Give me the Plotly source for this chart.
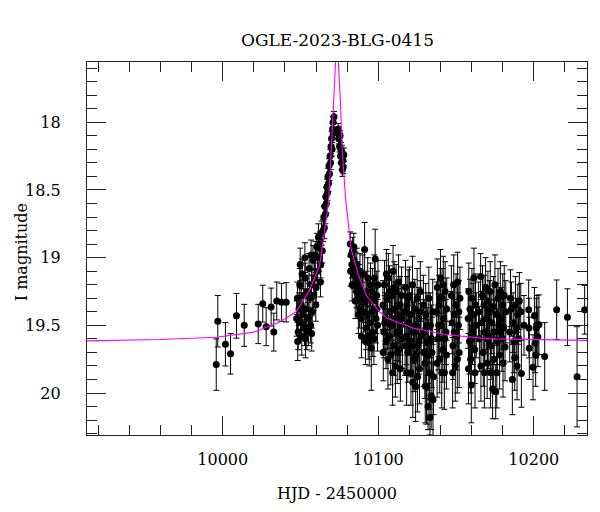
import plotly.graph_objects as go

# Observations: (HJD-2450000, I mag, error)
obs = [
    # pre-event baseline
    (9995.8, 19.79, 0.19), (9996.8, 19.47, 0.19), (10001.7, 19.64, 0.16), (10005.0, 19.71, 0.15),
    (10008.8, 19.43, 0.165), (10013.8, 19.50, 0.155), (10022.8, 19.49, 0.145), (10025.7, 19.34, 0.136),
    (10027.9, 19.51, 0.14), (10031.1, 19.365, 0.14), (10032.8, 19.55, 0.14), (10034.7, 19.32, 0.14),
    (10037.8, 19.33, 0.14), (10040.8, 19.33, 0.145),
    # rising branch
    (10047.5, 19.45, 0.13), (10048.0, 19.30, 0.12), (10048.5, 19.55, 0.13), (10049.0, 19.38, 0.12),
    (10049.5, 19.20, 0.12), (10050.0, 19.48, 0.13), (10050.5, 19.35, 0.12), (10051.0, 19.12, 0.11),
    (10051.5, 19.42, 0.12), (10052.0, 19.28, 0.12), (10052.5, 19.52, 0.13), (10053.0, 19.15, 0.11),
    (10053.5, 19.38, 0.12), (10054.0, 19.55, 0.13), (10054.5, 19.25, 0.12), (10055.0, 19.45, 0.12),
    (10055.5, 19.08, 0.11), (10056.0, 19.30, 0.12), (10056.5, 19.50, 0.13), (10057.0, 19.20, 0.11),
    (10057.5, 19.40, 0.12), (10058.0, 19.02, 0.11), (10058.5, 19.28, 0.11), (10059.0, 19.15, 0.11),
    (10059.5, 18.98, 0.10), (10060.0, 19.22, 0.11), (10060.5, 18.92, 0.10), (10061.0, 19.10, 0.10),
    (10061.5, 18.85, 0.10), (10062.0, 19.00, 0.10), (10062.5, 18.90, 0.09), (10063.0, 19.05, 0.10),
    (10063.5, 18.82, 0.09), (10064.0, 18.95, 0.09), (10064.5, 18.80, 0.08), (10065.0, 18.70, 0.08),
    (10065.3, 18.78, 0.08), (10065.6, 18.62, 0.07), (10066.0, 18.68, 0.07), (10066.3, 18.55, 0.07),
    (10066.6, 18.60, 0.07), (10067.0, 18.48, 0.06), (10067.3, 18.52, 0.06), (10067.6, 18.40, 0.06),
    (10068.0, 18.45, 0.06), (10068.3, 18.32, 0.05), (10068.6, 18.38, 0.05), (10069.0, 18.25, 0.05),
    (10069.3, 18.30, 0.05), (10069.6, 18.18, 0.05), (10070.0, 18.12, 0.05), (10070.3, 18.20, 0.05),
    (10070.6, 18.05, 0.04), (10070.9, 18.00, 0.04), (10071.2, 18.08, 0.04), (10071.5, 17.96, 0.04),
    (10048.2, 19.62, 0.14), (10050.8, 19.58, 0.14), (10053.2, 19.60, 0.14), (10055.2, 19.52, 0.13),
    (10057.2, 19.56, 0.13), (10049.8, 19.05, 0.12), (10052.8, 19.00, 0.11), (10056.8, 18.98, 0.11),
    (10059.8, 19.35, 0.12), (10062.8, 19.18, 0.11),
    # just after peak
    (10074.2, 18.05, 0.04), (10074.5, 18.12, 0.04), (10074.8, 18.08, 0.04), (10075.1, 18.18, 0.04),
    (10075.4, 18.10, 0.04), (10075.7, 18.25, 0.05), (10076.0, 18.20, 0.05), (10076.3, 18.30, 0.05),
    (10076.6, 18.22, 0.05), (10076.9, 18.35, 0.05), (10077.2, 18.28, 0.05), (10077.5, 18.33, 0.05),
    (10077.8, 18.24, 0.05),
    # decline
    (10082.0, 18.90, 0.09), (10082.5, 18.98, 0.10), (10083.0, 19.05, 0.10), (10083.5, 18.95, 0.10),
    (10084.0, 19.12, 0.11), (10084.5, 19.02, 0.11), (10085.0, 19.20, 0.12), (10085.5, 19.08, 0.12),
    (10086.0, 19.25, 0.12), (10086.5, 19.15, 0.12), (10087.0, 19.30, 0.13), (10087.5, 19.18, 0.13),
    (10088.0, 19.38, 0.14), (10088.5, 19.22, 0.13), (10089.0, 19.45, 0.14), (10089.5, 19.28, 0.14),
    (10090.0, 19.12, 0.14), (10090.5, 19.40, 0.15), (10091.2, 18.94, 0.20), (10091.5, 19.33, 0.15),
    (10092.0, 19.52, 0.16), (10092.5, 19.25, 0.15), (10093.0, 19.42, 0.16), (10093.5, 19.58, 0.17),
    (10094.0, 19.30, 0.16), (10094.5, 19.48, 0.17), (10095.0, 19.20, 0.16), (10095.5, 19.67, 0.31),
    (10096.0, 19.40, 0.17), (10096.5, 19.55, 0.18), (10097.0, 19.32, 0.17), (10097.5, 19.15, 0.17),
    (10098.0, 19.01, 0.22), (10098.5, 19.45, 0.18), (10099.0, 19.28, 0.18), (10099.5, 19.50, 0.19),
    (10082.2, 19.10, 0.11), (10083.2, 19.20, 0.12), (10084.2, 18.92, 0.10), (10085.2, 19.32, 0.13),
    (10086.2, 19.05, 0.12), (10087.2, 19.42, 0.14), (10088.2, 19.10, 0.13), (10089.2, 19.58, 0.16),
    (10090.2, 19.30, 0.15), (10091.8, 19.62, 0.17), (10093.2, 19.15, 0.15), (10094.2, 19.62, 0.18),
    (10096.2, 19.25, 0.17), (10097.2, 19.60, 0.19), (10098.8, 19.38, 0.18), (10099.8, 19.20, 0.18),
    (10103.0, 19.35, 0.18), (10103.5, 19.55, 0.19), (10104.0, 19.20, 0.18), (10104.5, 19.45, 0.19),
    (10105.0, 19.62, 0.20), (10105.5, 19.30, 0.18), (10106.0, 19.48, 0.19), (10106.5, 19.15, 0.18),
    (10107.0, 19.58, 0.20), (10107.5, 19.40, 0.19), (10108.0, 19.72, 0.22), (10108.5, 19.28, 0.19),
    (10109.0, 19.50, 0.20), (10109.5, 19.10, 0.19), (10110.0, 19.65, 0.22), (10110.5, 19.38, 0.20),
    (10111.0, 19.80, 0.23), (10111.5, 19.25, 0.20), (10112.0, 19.55, 0.21), (10112.5, 19.42, 0.21),
    (10113.0, 19.18, 0.20), (10113.5, 19.68, 0.22), (10114.0, 19.35, 0.21), (10114.5, 19.50, 0.22),
    (10115.0, 19.28, 0.21), (10115.5, 19.60, 0.22),
    (10103.2, 19.70, 0.21), (10104.2, 19.48, 0.20), (10105.2, 19.12, 0.18), (10106.2, 19.75, 0.22),
    (10107.2, 19.25, 0.19), (10108.2, 19.50, 0.20), (10109.2, 19.85, 0.24), (10110.2, 19.22, 0.19),
    (10111.2, 19.45, 0.21), (10112.2, 19.70, 0.23), (10113.2, 19.55, 0.22), (10114.2, 19.82, 0.24),
    (10115.2, 19.45, 0.22),
    (10117.0, 19.40, 0.20), (10117.5, 19.22, 0.20), (10118.0, 19.58, 0.21), (10118.5, 19.35, 0.21),
    (10119.0, 19.70, 0.22), (10119.5, 19.48, 0.21), (10120.0, 19.28, 0.21), (10120.5, 19.62, 0.22),
    (10121.0, 19.85, 0.24), (10121.5, 19.42, 0.22), (10122.0, 19.20, 0.21), (10122.5, 19.55, 0.22),
    (10123.0, 19.75, 0.24), (10123.5, 19.38, 0.22), (10124.0, 19.95, 0.26), (10124.5, 19.50, 0.23),
    (10125.0, 19.30, 0.22), (10125.5, 19.65, 0.24), (10126.0, 19.45, 0.23), (10126.5, 19.82, 0.26),
    (10127.0, 19.25, 0.22), (10127.5, 19.58, 0.24),
    (10117.2, 19.65, 0.22), (10118.2, 19.85, 0.24), (10119.2, 19.30, 0.21), (10120.2, 19.50, 0.22),
    (10121.2, 19.65, 0.23), (10122.2, 19.92, 0.26), (10123.2, 19.55, 0.23), (10124.2, 19.72, 0.25),
    (10125.2, 19.88, 0.26), (10126.2, 19.62, 0.24), (10127.2, 19.40, 0.23),
    (10129.0, 19.35, 0.22), (10129.5, 19.55, 0.24), (10130.0, 19.78, 0.26), (10130.5, 19.42, 0.23),
    (10131.0, 19.95, 0.28), (10131.5, 19.62, 0.25), (10132.0, 20.10, 0.17), (10132.5, 19.30, 0.23),
    (10133.0, 19.85, 0.27), (10133.5, 19.50, 0.24), (10134.0, 20.02, 0.25), (10134.5, 19.70, 0.26),
    (10135.0, 19.40, 0.24), (10135.5, 19.88, 0.28),
    (10129.2, 19.70, 0.25), (10130.2, 19.95, 0.27), (10131.2, 19.50, 0.24), (10132.2, 19.72, 0.26),
    (10133.2, 20.18, 0.13), (10134.2, 19.60, 0.25), (10135.2, 20.05, 0.27),
    (10137.5, 19.40, 0.22), (10138.0, 19.22, 0.21), (10138.5, 19.60, 0.23), (10139.0, 19.35, 0.22),
    (10139.5, 19.75, 0.25), (10140.0, 19.15, 0.21), (10140.5, 19.50, 0.23), (10141.0, 19.30, 0.22),
    (10141.5, 19.68, 0.24), (10142.0, 19.45, 0.23), (10142.5, 19.85, 0.27), (10143.0, 19.25, 0.22),
    (10143.5, 19.55, 0.24), (10144.0, 19.38, 0.23),
    (10137.8, 19.78, 0.25), (10138.8, 19.50, 0.23), (10139.8, 19.30, 0.22), (10140.8, 19.85, 0.26),
    (10141.8, 19.20, 0.21), (10142.8, 19.60, 0.24), (10143.8, 19.72, 0.25),
    (10147.0, 19.28, 0.22), (10147.5, 19.48, 0.23), (10148.0, 19.65, 0.25), (10148.5, 19.20, 0.22),
    (10149.0, 19.42, 0.23), (10149.5, 19.80, 0.26), (10150.0, 19.35, 0.23), (10150.5, 19.58, 0.25),
    (10151.0, 19.18, 0.22), (10151.5, 19.50, 0.24), (10152.0, 19.70, 0.26), (10152.5, 19.30, 0.23),
    (10147.8, 19.85, 0.26), (10148.8, 19.55, 0.24), (10150.8, 19.75, 0.25), (10151.8, 19.40, 0.23),
    (10157.8, 19.45, 0.22), (10158.2, 19.25, 0.21), (10158.6, 19.62, 0.24), (10159.0, 19.38, 0.22),
    (10159.4, 19.75, 0.25), (10159.8, 19.94, 0.28), (10160.2, 19.30, 0.22), (10160.6, 19.55, 0.24),
    (10161.0, 19.42, 0.23), (10161.5, 19.15, 0.22), (10162.0, 19.68, 0.25), (10162.5, 19.35, 0.23),
    (10163.0, 19.50, 0.24),
    (10158.0, 19.82, 0.26), (10160.0, 19.60, 0.24), (10162.2, 19.85, 0.26),
    (10164.5, 19.40, 0.22), (10165.0, 19.60, 0.24), (10165.8, 19.14, 0.17), (10166.5, 19.48, 0.23),
    (10167.0, 19.28, 0.22), (10167.5, 19.70, 0.25), (10168.0, 19.35, 0.22), (10168.5, 19.55, 0.24),
    (10169.0, 19.22, 0.22), (10169.5, 19.45, 0.23), (10170.0, 19.78, 0.26), (10170.5, 19.32, 0.22),
    (10171.0, 19.58, 0.24), (10171.5, 19.40, 0.23), (10172.0, 19.25, 0.22), (10172.5, 19.65, 0.25),
    (10173.0, 19.48, 0.23), (10173.5, 19.97, 0.22), (10174.0, 19.36, 0.22), (10174.5, 19.55, 0.24),
    (10175.0, 19.20, 0.22), (10175.5, 19.99, 0.20), (10176.0, 19.42, 0.23), (10176.5, 19.62, 0.24),
    (10177.0, 19.30, 0.22), (10177.5, 19.50, 0.23), (10178.0, 19.72, 0.25), (10178.5, 19.25, 0.22),
    (10179.0, 19.45, 0.23), (10179.5, 19.60, 0.24), (10180.0, 19.35, 0.23), (10180.5, 19.52, 0.24),
    (10181.0, 19.28, 0.22), (10181.5, 19.66, 0.25), (10182.0, 19.40, 0.23),
    (10166.0, 19.80, 0.26), (10168.2, 19.85, 0.26), (10170.2, 19.60, 0.24), (10172.2, 19.85, 0.26),
    (10174.2, 19.75, 0.25), (10176.2, 19.85, 0.26), (10178.2, 19.55, 0.24), (10180.2, 19.78, 0.25),
    (10184.5, 19.55, 0.22), (10185.0, 19.30, 0.21), (10185.6, 19.38, 0.20), (10186.2, 19.90, 0.26),
    (10186.7, 19.48, 0.22), (10187.2, 19.62, 0.23), (10187.7, 19.74, 0.24), (10188.2, 19.35, 0.21),
    (10188.7, 19.52, 0.22), (10189.2, 19.80, 0.25), (10189.7, 19.42, 0.22), (10190.2, 19.60, 0.23),
    (10190.7, 19.32, 0.21), (10191.6, 19.40, 0.21), (10192.0, 19.855, 0.25), (10193.7, 19.50, 0.22),
    (10196.7, 19.385, 0.22), (10196.9, 19.52, 0.22), (10197.1, 19.67, 0.23), (10199.5, 19.81, 0.24),
    (10200.4, 19.43, 0.21), (10200.8, 19.63, 0.22), (10201.2, 19.72, 0.23), (10201.6, 19.52, 0.22),
    (10202.0, 19.50, 0.22), (10202.6, 19.585, 0.22), (10203.3, 19.495, 0.22), (10207.0, 19.73, 0.25),
    (10214.7, 19.385, 0.22), (10221.6, 19.44, 0.21), (10227.8, 19.88, 0.37), (10232.7, 19.385, 0.18),
]
hjd = [o[0] for o in obs]
mag = [o[1] for o in obs]
mag_err = [o[2] for o in obs]

# Model light curve
model_hjd = [9900, 9960, 9996, 10020, 10036.5, 10047.2, 10055.8, 10062.2, 10065.4, 10068.0,
             10069.8, 10071.0, 10071.9, 10072.9, 10073.6, 10074.3, 10075.6, 10076.8, 10079.0,
             10082.6, 10087.0, 10092.3, 10100.8, 10106.2, 10122.3, 10143.8, 10171.6, 10240]
model_mag = [19.617, 19.605, 19.588, 19.55, 19.475, 19.40, 19.24, 19.06, 18.81, 18.59,
             18.20, 17.95, 17.71, 17.556, 17.30, 17.556, 17.83, 18.20, 18.57,
             18.94, 19.12, 19.28, 19.40, 19.45, 19.52, 19.57, 19.60, 19.612]

x_ticks = [10000, 10100, 10200]
y_ticks = [18, 18.5, 19, 19.5, 20]

FONT = "DejaVu Serif"

fig = go.Figure()
fig.add_trace(go.Scatter(
    x=hjd, y=mag, mode="markers",
    marker=dict(color="black", size=7),
    error_y=dict(type="data", array=mag_err, visible=True, color="black", thickness=1, width=3),
    showlegend=False,
))
fig.add_trace(go.Scatter(
    x=model_hjd, y=model_mag, mode="lines",
    line=dict(color="#ff00ff", width=1.1),
    showlegend=False,
))

axis_common = dict(
    showline=True, linecolor="#222", linewidth=1.3, mirror="allticks",
    ticks="inside", ticklen=19, tickwidth=1.2, tickcolor="#222",
    showgrid=False, zeroline=False,
    tickfont=dict(family=FONT, size=16, color="black"),
)

fig.update_xaxes(
    range=[9912.7, 10234.2], tickvals=x_ticks, tickformat="d",
    minor=dict(dtick=20, tick0=10000, ticks="inside", ticklen=9.5, tickwidth=1.1, tickcolor="#222", showgrid=False),
    title=dict(text="HJD - 2450000", font=dict(family=FONT, size=16, color="black"), standoff=19),
    ticklabelstandoff=10,
    **axis_common,
)
fig.update_yaxes(
    range=[20.31, 17.555], tickvals=y_ticks,
    minor=dict(dtick=0.1, tick0=18, ticks="inside", ticklen=9.5, tickwidth=1.1, tickcolor="#222", showgrid=False),
    ticklabelstandoff=22,
    **axis_common,
)

fig.update_layout(
    width=600, height=512,
    margin=dict(l=87, r=13, t=62, b=75),
    plot_bgcolor="white", paper_bgcolor="white",
    title=dict(text="OGLE-2023-BLG-0415", x=0.5625, xanchor="center", y=1 - 40 / 512, yanchor="middle",
               font=dict(family=FONT, size=17, color="black")),
    annotations=[dict(
        text="I magnitude", textangle=-90, showarrow=False,
        xref="paper", yref="paper", x=(21 - 87) / 500, y=0.49,
        xanchor="center", yanchor="middle",
        font=dict(family=FONT, size=16, color="black"),
    )],
)

fig.write_html("out.html")
